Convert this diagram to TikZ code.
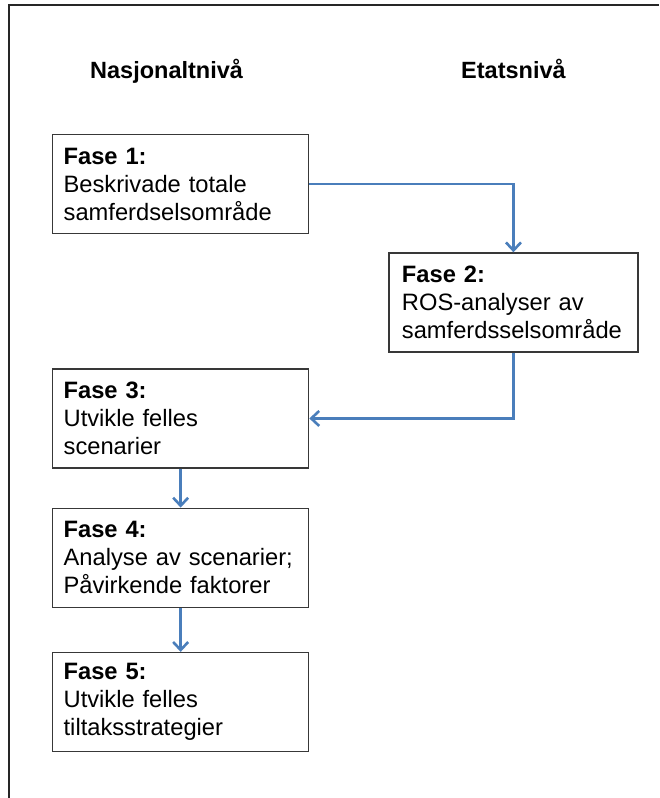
\documentclass[tikz,border=0pt]{standalone}
\usepackage{fontspec}
\setmainfont{Liberation Sans}
\usepackage{tikz}
\usetikzlibrary{positioning,arrows.meta}

\definecolor{flowblue}{HTML}{4A7EBB}
\definecolor{boxline}{HTML}{383838}

\tikzset{
  fase/.style={draw=boxline, line width=1.3pt, align=left, inner xsep=11pt,
    text width=#1, minimum height=99pt,
    font=\fontsize{23.7}{28}\selectfont},
  fase/.default=234pt,
  header/.style={font=\fontsize{23.5}{28}\selectfont\bfseries, inner sep=0pt},
  flow/.style={flowblue, line width=2.6pt,
    -{Straight Barb[length=8pt,width=15pt,line width=2.6pt]}}
}

\begin{document}
\begin{tikzpicture}
\useasboundingbox (0,0) rectangle (659pt,-798pt);
\draw[line width=2.4pt, black!85] (9pt,-798pt) |- (659pt,-5pt);

\node [fase, anchor=north west] (b1) at (52pt,-134pt) {\textbf{Fase 1:}\\Beskrivade totale\\samferdselsområde};
\node [fase=223pt, inner xsep=13pt, below right=18pt and 79pt of b1] (b2) {\textbf{Fase 2:}\\ROS-analyser av\\samferdsselsområde};
\node [fase, below=134pt of b1] (b3) {\textbf{Fase 3:}\\Utvikle felles\\scenarier};
\node [fase, below=39pt of b3] (b4) {\textbf{Fase 4:}\\Analyse av scenarier;\\Påvirkende faktorer};
\node [fase, below=44pt of b4] (b5) {\textbf{Fase 5:}\\Utvikle felles\\tiltaksstrategier};

\node [header, anchor=base west] (nasj) at (90pt,-78pt) {Nasjonaltnivå};
\node [header, anchor=base] (etat) at (b2.north |- nasj.base) {Etatsnivå};

\draw [flow] (b1.east) -| (b2.north);
\draw [flow] (b2.south) |- (b3.east);
\draw [flow] (b3) -- (b4);
\draw [flow] (b4) -- (b5);
\end{tikzpicture}
\end{document}
